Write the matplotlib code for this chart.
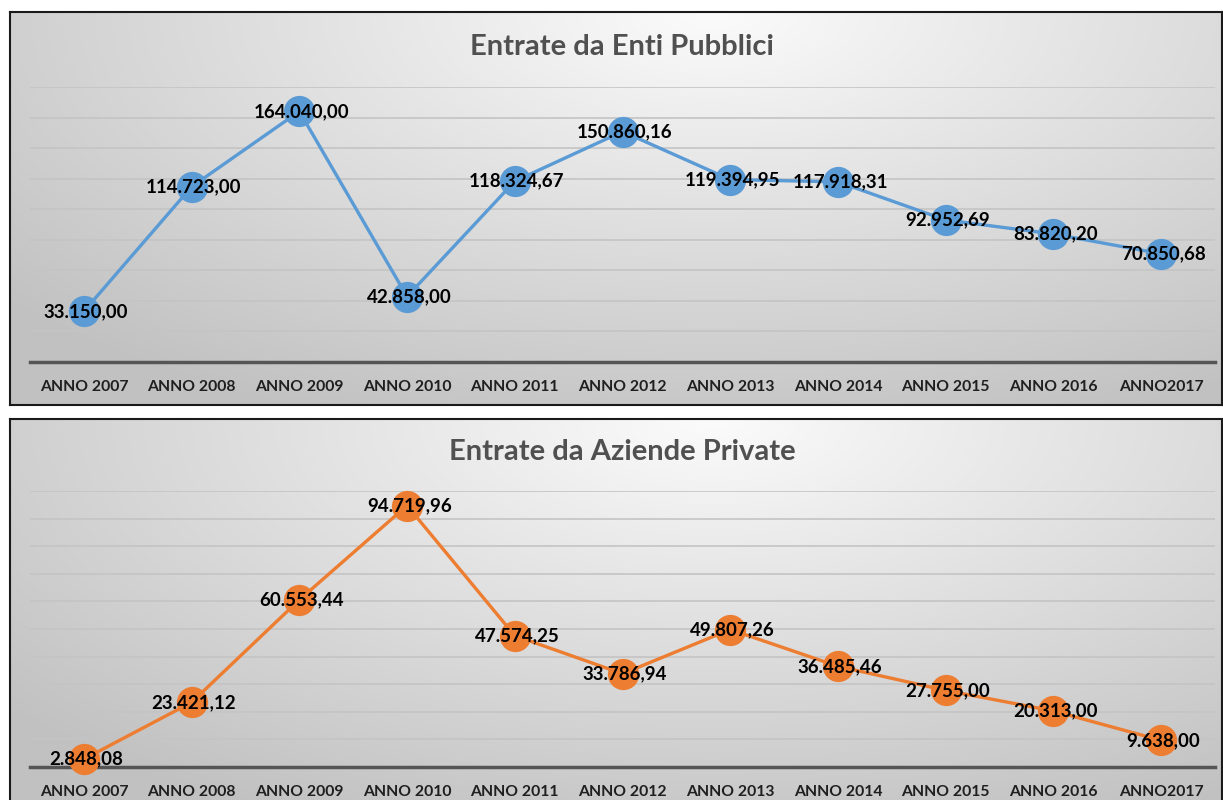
import numpy as np
import matplotlib.pyplot as plt

plt.rcParams['font.family'] = ['Lato', 'DejaVu Sans']

anni = ["ANNO 2007", "ANNO 2008", "ANNO 2009", "ANNO 2010", "ANNO 2011", "ANNO 2012",
        "ANNO 2013", "ANNO 2014", "ANNO 2015", "ANNO 2016", "ANNO2017"]
enti_pubblici = [33150.00, 114723.00, 164040.00, 42858.00, 118324.67, 150860.16,
                 119394.95, 117918.31, 92952.69, 83820.20, 70850.68]
aziende_private = [2848.08, 23421.12, 60553.44, 94719.96, 47574.25, 33786.94,
                   49807.26, 36485.46, 27755.00, 20313.00, 9638.00]

W, H = 1223, 800


def formato_it(v):
    s = "{:,.2f}".format(v)
    return s.replace(",", "X").replace(".", ",").replace("X", ".")


def sfondo(fig, rect):
    # pannello con sfumatura radiale chiara in alto
    bg = fig.add_axes(rect, zorder=0)
    ny, nx = 200, 600
    yy, xx = np.mgrid[0:1:ny * 1j, 0:1:nx * 1j]
    d = np.sqrt(((xx - 0.58) / 0.75) ** 2 + ((yy - 0.0) / 1.1) ** 2)
    g = np.clip(0.985 - 0.22 * d, 0.76, 1.0)
    img = np.dstack([g, g, g])
    bg.imshow(img, aspect='auto', extent=[0, 1, 1, 0], interpolation='bilinear')
    bg.set_xlim(0, 1)
    bg.set_ylim(1, 0)
    bg.set_xticks([])
    bg.set_yticks([])
    for s in bg.spines.values():
        s.set_color('#1a1a1a')
        s.set_linewidth(1.5)
    return bg


def px_rect(x0, y0, x1, y1):
    return [x0 / W, 1 - y1 / H, (x1 - x0) / W, (y1 - y0) / H]


def grafico(fig, rect, valori, colore, ymax, passo, titolo, ytitolo):
    ax = fig.add_axes(rect, zorder=2)
    ax.patch.set_alpha(0)
    x = np.arange(len(anni))
    ax.set_xlim(-0.5, len(anni) - 0.5)
    ax.set_ylim(0, ymax)
    for yv in np.arange(passo, ymax + 1, passo):
        ax.axhline(yv, color='#c4c4c4', lw=1.2, zorder=1)
    ax.axhline(0, color='#555555', lw=2.5, zorder=2, clip_on=False)
    ax.plot(x, valori, color=colore, lw=2.4, marker='o', markersize=22.5,
            markeredgewidth=0, zorder=3, clip_on=False)
    for xi, v in zip(x, valori):
        ax.text(xi + 0.02, v, formato_it(v), ha='center', va='center',
                fontsize=13.5, fontweight='bold', color='black', zorder=4)
    ax.set_yticks([])
    ax.set_xticks(x)
    ax.set_xticklabels(anni, fontsize=11.3, fontweight='bold', color='#1f1f1f')
    ax.tick_params(axis='x', length=0, pad=13)
    for s in ax.spines.values():
        s.set_visible(False)
    fig.text(622 / W, 1 - ytitolo / H, titolo, ha='center', va='center',
             fontsize=21, fontweight='bold', color='#505050', zorder=5)


fig = plt.figure(figsize=(W / 100, H / 100), dpi=100)

sfondo(fig, px_rect(10, 12, 1222, 405))
grafico(fig, px_rect(30, 87, 1215, 362), enti_pubblici, '#5B9BD5',
        180000, 20000, "Entrate da Enti Pubblici", 47)

sfondo(fig, px_rect(10, 419, 1222, 812))
grafico(fig, px_rect(30, 491, 1215, 767), aziende_private, '#ED7D31',
        100000, 10000, "Entrate da Aziende Private", 452)

fig.savefig("out.png", dpi=100)
